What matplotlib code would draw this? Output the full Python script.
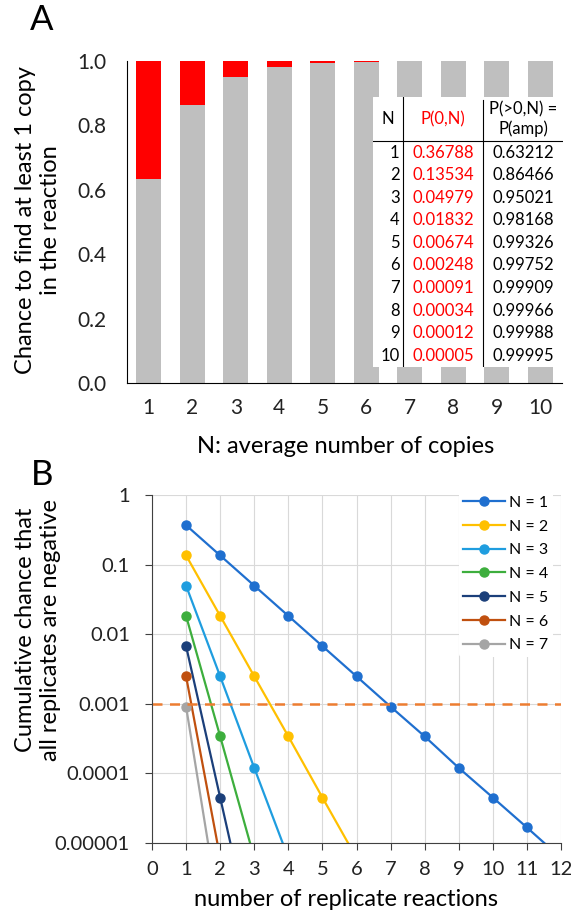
import matplotlib.pyplot as plt
import numpy as np

plt.rcParams['font.family'] = ['Lato', 'DejaVu Sans']

# panel A data
n_copies = [1, 2, 3, 4, 5, 6, 7, 8, 9, 10]
p_zero = [0.36788, 0.13534, 0.04979, 0.01832, 0.00674, 0.00248, 0.00091, 0.00034, 0.00012, 0.00005]
p_amp = [0.63212, 0.86466, 0.95021, 0.98168, 0.99326, 0.99752, 0.99909, 0.99966, 0.99988, 0.99995]

# panel B data: chance that all replicates are negative
replicates = [1, 2, 3, 4, 5, 6, 7, 8, 9, 10, 11, 12]
cum_n1 = [0.36788, 0.13534, 0.04979, 0.01832, 0.00674, 0.00248, 0.00091, 0.00034, 0.00012, 0.000045, 0.0000167, 0.0000061]
cum_n2 = [0.13534, 0.01832, 0.00248, 0.00034, 0.000045, 0.0000061]
cum_n3 = [0.04979, 0.00248, 0.00012, 0.0000061]
cum_n4 = [0.01832, 0.00034, 0.0000061]
cum_n5 = [0.00674, 0.000045, 0.0000003]
cum_n6 = [0.00248, 0.0000061]
cum_n7 = [0.00091, 0.00000083]
series_b = [cum_n1, cum_n2, cum_n3, cum_n4, cum_n5, cum_n6, cum_n7]
colors_b = ['#1F6FCF', '#FFC000', '#1F9DDF', '#3DAE3D', '#1B3F7A', '#C0500F', '#A5A5A5']

W, H = 571, 915
fig = plt.figure(figsize=(W/100, H/100), dpi=100)

# ---------------- panel A ----------------
axA = fig.add_axes([127/W, 1-383/H, 435/W, 322/H])
axA.bar(n_copies, p_amp, width=0.58, color='#BFBFBF')
axA.bar(n_copies, p_zero, bottom=p_amp, width=0.58, color='#FF0000')
axA.set_xlim(0.5, 10.5)
axA.set_ylim(0, 1)
axA.set_yticks(np.arange(0, 1.01, 0.2))
axA.set_yticklabels(['%.1f' % v for v in np.arange(0, 1.01, 0.2)])
axA.set_xticks(n_copies)
axA.tick_params(length=0, labelsize=15, colors='#222222')
axA.tick_params(axis='x', pad=11)
axA.tick_params(axis='y', pad=15)
for s in ['top', 'right']:
    axA.spines[s].set_visible(False)
axA.spines['left'].set_linewidth(0.8)
axA.spines['bottom'].set_linewidth(0.8)
fig.text(346/W, 1-447/H, 'N: average number of copies', fontsize=17, ha='center', va='center')
fig.text(38/W, 1-220/H, 'Chance to find at least 1 copy\nin the reaction', fontsize=17,
         rotation=90, ha='center', va='center', multialignment='center', linespacing=1.2)
fig.text(42/W, 1-20/H, 'A', fontsize=25, ha='center', va='center')

# table on top of the bars
tab = fig.add_axes([373/W, 1-367/H, 190/W, 270/H])
tab.set_xlim(0, 1)
tab.set_ylim(0, 1)
tab.axis('off')
tab.add_patch(plt.Rectangle((0, 0), 1, 1, color='white', transform=tab.transAxes))
head_y = 0.836
row_h = head_y / 10
tab.plot([0.158, 0.158], [0, 1], color='black', lw=0.8)
tab.plot([0.579, 0.579], [0, 0.99], color='black', lw=0.8)
tab.plot([0, 1], [head_y, head_y], color='black', lw=0.8)
tab.text(0.08, 0.918, 'N', ha='center', va='center', fontsize=12)
tab.text(0.368, 0.918, 'P(0,N)', ha='center', va='center', fontsize=12, color='red')
tab.text(0.79, 0.918, 'P(>0,N) =\nP(amp)', ha='center', va='center', fontsize=12, linespacing=1.15)
for i in range(10):
    y = head_y - (i + 0.5) * row_h
    tab.text(0.14, y, str(n_copies[i]), ha='right', va='center', fontsize=12)
    tab.text(0.368, y, '%.5f' % p_zero[i], ha='center', va='center', fontsize=12, color='red')
    tab.text(0.79, y, '%.5f' % p_amp[i], ha='center', va='center', fontsize=12)

# ---------------- panel B ----------------
axB = fig.add_axes([152/W, 1-843/H, 409/W, 348/H])
axB.set_yscale('log')
for vals, col, n in zip(series_b, colors_b, range(1, 8)):
    axB.plot(replicates[:len(vals)], vals, '-o', color=col, lw=1.6, ms=6.5, label='N = %d' % n)
axB.axhline(0.001, color='#ED7D31', lw=1.8, ls=(0, (4, 3)))
axB.set_xlim(0, 12)
axB.set_ylim(1e-5, 1)
axB.set_xticks(range(0, 13))
yt = [1e-5, 1e-4, 1e-3, 1e-2, 1e-1, 1]
axB.set_yticks(yt)
axB.set_yticklabels(['0.00001', '0.0001', '0.001', '0.01', '0.1', '1'])
axB.minorticks_off()
axB.grid(True, color='#D9D9D9', lw=0.8)
axB.set_axisbelow(True)
for s in ['top', 'right']:
    axB.spines[s].set_visible(False)
axB.spines['left'].set_color('#404040')
axB.spines['bottom'].set_color('#404040')
axB.tick_params(direction='out', length=5, color='#404040', labelsize=14.5, colors='#222222')
axB.tick_params(axis='x', pad=8)
axB.tick_params(axis='y', pad=11)
fig.text(346/W, 1-900/H, 'number of replicate reactions', fontsize=17, ha='center', va='center')
fig.text(38/W, 1-630/H, 'Cumulative chance that\nall replicates are negative', fontsize=17,
         rotation=90, ha='center', va='center', multialignment='center', linespacing=1.2)
leg = axB.legend(loc='upper right', bbox_to_anchor=(1.0, 1.035), fontsize=11.5, frameon=True,
                 framealpha=1, edgecolor='none', facecolor='white', handlelength=2.6,
                 handletextpad=0.25, labelspacing=0.6, borderpad=0.3)
fig.text(42/W, 1-475/H, 'B', fontsize=25, ha='center', va='center')

plt.savefig('out.png', dpi=100)
